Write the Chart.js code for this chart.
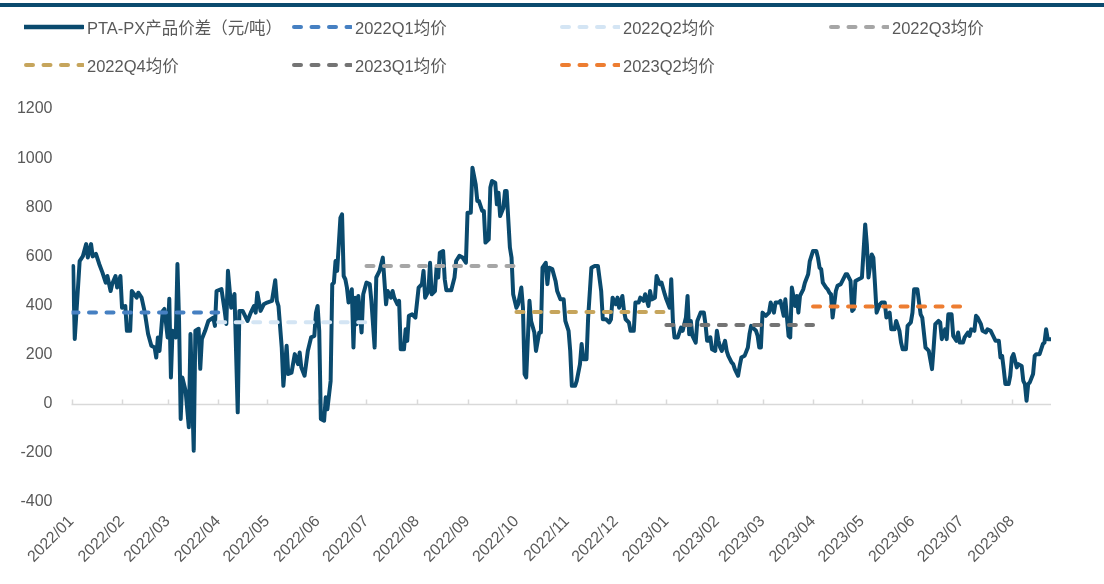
<!DOCTYPE html>
<html><head><meta charset="utf-8">
<script src="https://cdn.jsdelivr.net/npm/chart.js@4.4.1/dist/chart.umd.min.js"></script>
<style>
html,body{margin:0;padding:0;background:#fff;}
#wrap{position:relative;width:1104px;height:584px;overflow:hidden;font-family:'Liberation Sans',Arial,'Noto Sans CJK SC',sans-serif;}
#topbar{position:absolute;left:0;top:3px;width:1104px;height:4px;background:#0A4A6E;}
#chart{position:absolute;left:0;top:0;}
.lg{position:absolute;display:flex;align-items:center;height:20px;font-size:16.5px;color:#595959;white-space:nowrap;}
.lg svg{margin-right:3px;flex:none;}
</style></head>
<body><div id="wrap"><div id="topbar"></div><canvas id="chart" width="1104" height="584"></canvas><div id="legend"></div></div>
<script>
const monthLabels = ['2022/01','2022/02','2022/03','2022/04','2022/05','2022/06','2022/07','2022/08','2022/09','2022/10','2022/11','2022/12','2023/01','2023/02','2023/03','2023/04','2023/05','2023/06','2023/07','2023/08'];
const monthStartDays = [0,31,59,90,120,151,181,212,243,273,304,334,365,396,424,455,485,516,546,577];
const axisEndDay = 601;

const seriesName = 'PTA-PX产品价差（元/吨）';
const spreadDays = [1,2,5,7,9,10,12,13,15,17,19,21,22,24,25,27,28,30,31,33,34,36,37,40,41,43,45,47,49,51,52,53,54,56,57,59,60,61,62,64,65,66,67,68,70,72,73,75,76,78,79,80,82,84,87,88,89,92,94,95,96,98,100,102,103,105,108,110,112,113,114,116,118,120,123,125,126,127,129,130,132,133,135,137,139,140,141,143,145,147,149,150,151,152,153,155,156,157,159,160,161,162,163,165,166,167,168,169,170,172,173,174,175,176,178,179,181,183,184,186,187,189,191,192,193,194,196,197,198,200,201,202,204,205,206,207,209,211,213,215,216,217,219,220,221,223,224,225,226,228,229,230,233,235,236,238,240,242,243,245,246,248,249,250,252,253,254,256,257,258,260,261,262,263,265,266,267,269,270,271,273,274,276,277,278,279,281,282,284,285,287,288,289,291,292,293,295,297,298,300,302,303,305,306,307,309,310,312,313,314,316,317,319,321,323,325,326,328,330,331,332,334,335,336,338,339,340,342,343,345,346,348,349,351,352,354,355,356,358,359,361,362,364,365,367,368,369,370,372,374,375,377,378,379,380,381,383,384,386,388,389,390,391,392,393,395,396,397,398,399,401,402,403,405,406,407,409,410,411,413,415,416,417,418,420,421,422,423,424,426,428,429,431,432,434,435,437,438,440,441,442,444,445,446,447,449,450,452,453,455,457,458,459,460,461,463,464,465,466,467,469,470,472,473,475,476,478,479,480,481,483,485,487,488,489,491,492,493,494,496,497,499,500,502,503,505,506,508,509,510,512,513,515,516,517,519,521,522,524,525,526,528,529,530,532,533,534,536,537,538,540,541,543,544,545,547,548,550,551,552,554,555,556,558,559,561,562,564,565,567,569,570,571,572,573,575,576,577,578,580,581,583,584,585,586,587,588,590,591,592,594,595,596,597,598,599,601];
const spreadValues = [561,264,581,601,650,595,650,600,610,569,534,493,520,459,488,520,473,520,391,398,297,297,459,432,452,432,371,284,236,229,188,270,215,378,386,270,427,107,297,270,569,337,-62,107,53,-96,284,-191,297,305,142,264,297,337,351,317,459,467,378,325,541,391,447,-35,378,378,337,371,398,371,452,378,405,412,419,503,419,398,229,73,236,121,127,202,161,209,148,114,215,270,276,371,398,297,-62,-69,26,-22,93,487,493,581,541,757,771,520,507,473,412,466,229,432,324,439,290,446,493,487,419,229,514,541,595,500,405,459,432,459,432,405,419,222,222,303,256,358,364,351,473,487,541,432,459,574,446,459,554,514,615,622,507,462,462,514,581,602,595,574,778,778,961,893,825,825,785,785,656,669,880,907,900,812,859,764,798,866,866,636,595,446,391,405,473,391,121,107,419,337,290,215,290,290,554,574,487,554,548,500,459,425,425,337,297,215,73,73,93,161,243,181,181,351,554,561,561,459,344,344,331,344,432,405,432,391,439,378,344,331,297,297,412,412,432,419,446,398,459,425,432,520,487,493,446,425,391,507,337,270,270,310,297,351,439,283,337,276,249,337,371,371,324,256,256,270,222,215,297,256,229,215,256,215,195,168,161,141,114,154,188,195,229,283,317,310,297,276,229,229,371,358,371,412,371,412,412,419,358,425,276,270,473,398,439,371,439,466,493,527,581,622,622,595,554,548,493,473,466,452,446,351,459,480,487,500,527,527,500,378,385,500,507,514,730,649,514,608,595,487,371,405,412,412,351,371,303,303,337,297,249,222,222,317,331,371,466,466,364,351,229,222,215,141,229,324,337,331,263,303,263,364,364,276,256,290,249,249,270,290,276,303,297,358,351,324,297,290,303,297,283,256,256,188,195,141,80,80,114,188,202,148,161,154,93,80,12,80,87,121,195,202,202,222,243,249,303,263,263];

const quarterNames = ['2022Q1均价','2022Q2均价','2022Q3均价','2022Q4均价','2023Q1均价','2023Q2均价'];
const quarterAvg = [371, 332, 561, 374, 321, 396];
const quarterStartDays = [0, 90, 181, 273, 365, 455];
const quarterEndDays = [90, 181, 273, 365, 455, 546];

const yMin = -400, yMax = 1200, yStep = 200;

// styles
const lineColor = '#0A4A6E';
const quarterColors = ['#4680C2','#D4E5F4','#A6A6A6','#C6A55C','#747474','#ED7D31'];
const textColor = '#595959';
const fontFamily = "'Liberation Sans', Arial, 'Noto Sans CJK SC', sans-serif";

const datasets = [{
  label: seriesName,
  data: spreadDays.map((d, i) => ({x: d, y: spreadValues[i]})),
  borderColor: lineColor, backgroundColor: lineColor,
  borderWidth: 4, pointRadius: 0, tension: 0,
  borderJoinStyle: 'round', borderCapStyle: 'round', order: 1
}].concat(quarterNames.map((n, i) => ({
  label: n,
  data: [{x: quarterStartDays[i], y: quarterAvg[i]}, {x: quarterEndDays[i], y: quarterAvg[i]}],
  borderColor: quarterColors[i], backgroundColor: quarterColors[i],
  borderWidth: 4, borderDash: [7, 10.5], borderCapStyle: 'round',
  pointRadius: 0, order: 0
})));

const zeroAxis = {
  id: 'zeroAxis',
  beforeDatasetsDraw(chart) {
    const {ctx, chartArea: a, scales: {x, y}} = chart;
    const y0 = Math.round(y.getPixelForValue(0)) + 0.5;
    ctx.save();
    ctx.strokeStyle = '#D9D9D9';
    ctx.lineWidth = 1.5;
    ctx.beginPath();
    ctx.moveTo(a.left, y0);
    ctx.lineTo(x.getPixelForValue(axisEndDay), y0);
    monthStartDays.forEach(d => {
      const px = Math.round(x.getPixelForValue(d)) + 0.5;
      ctx.moveTo(px, y0);
      ctx.lineTo(px, y0 - 5);
    });
    ctx.stroke();
    ctx.restore();
  }
};

const chart = new Chart(document.getElementById('chart'), {
  type: 'line',
  data: { datasets },
  options: {
    responsive: false, animation: false, devicePixelRatio: 1,
    layout: { padding: { top: 109, right: 53, left: 0, bottom: 0 } },
    plugins: { legend: { display: false }, tooltip: { enabled: false } },
    scales: {
      x: {
        type: 'linear', min: 0, max: axisEndDay,
        grid: { display: false, drawTicks: false }, border: { display: false },
        afterBuildTicks: s => { s.ticks = monthStartDays.map(v => ({value: v})); },
        afterFit: s => { s.height = 82; },
        ticks: {
          autoSkip: false, minRotation: 45, maxRotation: 45, padding: 10,
          color: textColor, font: { family: fontFamily, size: 16 },
          callback: (v, i) => monthLabels[i]
        }
      },
      y: {
        min: yMin, max: yMax,
        grid: { display: false, drawTicks: false }, border: { display: false },
        afterFit: s => { s.width = 71.5; },
        ticks: { stepSize: yStep, padding: 19, color: textColor, font: { family: fontFamily, size: 16 },
          callback: v => String(v) }
      }
    }
  },
  plugins: [zeroAxis]
});

const legendPos = [[24,17],[292,17],[560,17],[829,17],[24,55],[292,55],[560,55]];
const legendEl = document.getElementById('legend');
chart.data.datasets.forEach((ds, i) => {
  const el = document.createElement('div');
  el.className = 'lg';
  el.style.left = legendPos[i][0] + 'px';
  el.style.top = legendPos[i][1] + 'px';
  const dashed = !!ds.borderDash;
  const dashAttr = dashed ? `stroke-dasharray="${ds.borderDash.join(' ')}"` : '';
  el.innerHTML = `<svg width="60" height="20"><line x1="${dashed ? 2 : 0.5}" y1="10" x2="59" y2="10" stroke="${ds.borderColor}" stroke-width="${dashed ? 4 : 4.5}" stroke-linecap="round" ${dashAttr}/></svg><span></span>`;
  el.querySelector('span').textContent = ds.label;
  legendEl.appendChild(el);
});
</script></body></html>
